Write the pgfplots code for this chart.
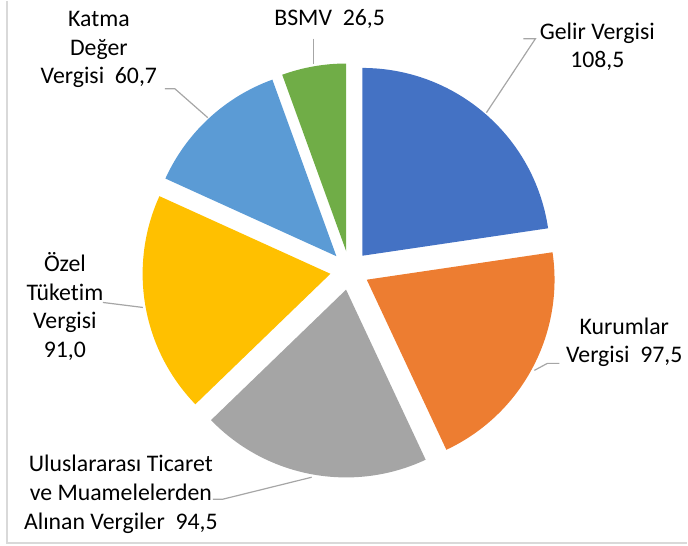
\documentclass[border=0pt]{standalone}
\usepackage{pgfplots}
\usepackage{pgfplotstable}
\pgfplotsset{compat=1.18}
\usepackage{fontspec}
\setmainfont[Ligatures={NoCommon}]{Carlito}
\definecolor{cGelir}{HTML}{4472C4}
\definecolor{cKur}{HTML}{ED7D31}
\definecolor{cUlus}{HTML}{A5A5A5}
\definecolor{cOzel}{HTML}{FFC000}
\definecolor{cKdv}{HTML}{5B9BD5}
\definecolor{cBsmv}{HTML}{70AD47}
\definecolor{leader}{HTML}{A6A6A6}
\definecolor{frame}{HTML}{D9D9D9}

\pgfplotstableread{
name value color
Gelir 108.5 cGelir
Kurumlar 97.5 cKur
Uluslararasi 94.5 cUlus
Ozel 91.0 cOzel
KDV 60.7 cKdv
BSMV 26.5 cBsmv
}\piedata

\begin{document}
\begin{tikzpicture}
\begin{axis}[
  scale only axis, width=344pt, height=272.5pt,
  xmin=0, xmax=688, ymin=0, ymax=545,
  hide axis, clip=false,
]
\path (axis cs:0,0) rectangle (axis cs:688,545);
% frame
\draw[frame, line width=0.8pt] (axis cs:7,545) -- (axis cs:7,2) -- (axis cs:688,2);

\pgfplotstablegetrowsof{\piedata}
\pgfmathtruncatemacro\N{\pgfplotsretval-1}
\gdef\total{0}
\foreach \i in {0,...,\N} {
  \pgfplotstablegetelem{\i}{value}\of\piedata
  \pgfmathsetmacro\t{\total+\pgfplotsretval}
  \xdef\total{\t}
}
\gdef\cum{0}
\foreach \i in {0,...,\N} {
  \pgfplotstablegetelem{\i}{value}\of\piedata \let\v\pgfplotsretval
  \pgfplotstablegetelem{\i}{color}\of\piedata \let\c\pgfplotsretval
  \pgfmathsetmacro\a{90-\cum/\total*360}
  \pgfmathsetmacro\b{90-(\cum+\v)/\total*360}
  \pgfmathsetmacro\m{(\a+\b)/2}
  \pgfmathsetmacro\cx{350+19.5*cos(\m)}
  \pgfmathsetmacro\cy{275+19.5*sin(\m)}
  \edef\tmp{\noexpand\fill[\c] (axis cs:\cx,\cy) -- ++(\a:94pt) arc[start angle=\a, end angle=\b, radius=94pt] -- cycle;}
  \tmp
  \pgfmathsetmacro\nc{\cum+\v}
  \xdef\cum{\nc}
}

% leader lines
\draw[leader, line width=0.6pt] (axis cs:314,507) -- (axis cs:314,482);
\draw[leader, line width=0.6pt] (axis cs:165,457) -- (axis cs:175,457) -- (axis cs:208,428);
\draw[leader, line width=0.6pt] (axis cs:524,507) -- (axis cs:536,507) -- (axis cs:487,433);
\draw[leader, line width=0.6pt] (axis cs:560,182) -- (axis cs:548,182) -- (axis cs:535,175);
\draw[leader, line width=0.6pt] (axis cs:103,243) -- (axis cs:143,238);
\draw[leader, line width=0.6pt] (axis cs:213,46) -- (axis cs:223,46) -- (axis cs:312,68);

% labels
\tikzset{lab/.style={align=center, font=\fontsize{11.9}{14.3}\selectfont, inner sep=0pt}}
\node[lab] at (axis cs:330,527) {BSMV~~26,5};
\node[lab] at (axis cs:99,496) {Katma\\Değer\\Vergisi~~60,7};
\node[lab] at (axis cs:598,499) {Gelir Vergisi\\108,5};
\node[lab] at (axis cs:625,203) {Kurumlar\\Vergisi~~97,5};
\node[lab] at (axis cs:65,239) {Özel\\Tüketim\\Vergisi\\91,0};
\node[lab] at (axis cs:121,51) {Uluslararası Ticaret\\ve Muamelelerden\\Alınan Vergiler~~94,5};
\end{axis}
\end{tikzpicture}
\end{document}
